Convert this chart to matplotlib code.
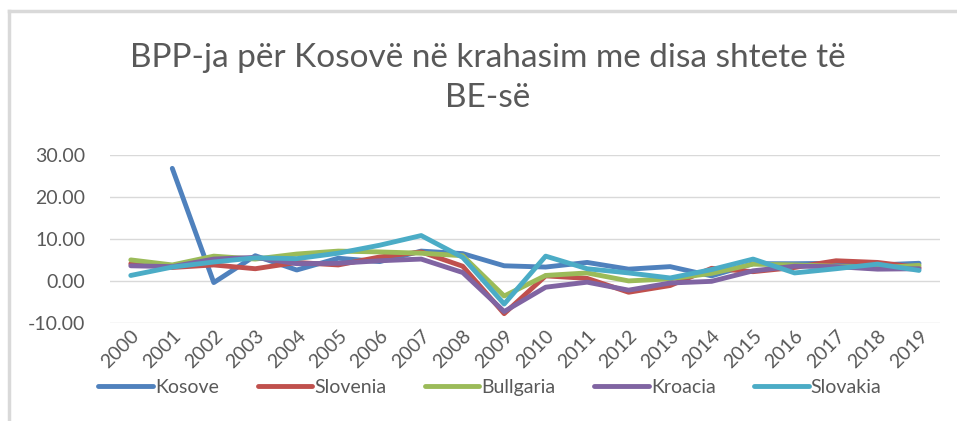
import numpy as np
import matplotlib.pyplot as plt
from matplotlib.lines import Line2D

years = [str(y) for y in range(2000, 2020)]

kosove = [np.nan, 26.8, -0.4, 6.0, 2.6, 5.4, 4.6, 7.1, 6.5, 3.6, 3.3, 4.4, 2.8, 3.4, 1.2, 4.1, 4.1, 4.2, 3.8, 4.2]
slovenia = [4.1, 3.2, 3.8, 2.9, 4.4, 3.8, 5.7, 6.9, 3.5, -7.8, 1.2, 0.6, -2.7, -1.1, 3.0, 2.2, 3.2, 4.8, 4.4, 3.2]
bullgaria = [5.0, 3.8, 5.9, 5.2, 6.4, 7.1, 6.9, 6.6, 6.0, -3.6, 1.3, 1.9, 0.0, 0.5, 1.8, 4.0, 3.8, 3.5, 3.1, 3.7]
kroacia = [3.6, 3.4, 5.2, 5.6, 4.1, 4.2, 4.8, 5.2, 2.0, -7.3, -1.5, -0.3, -2.2, -0.5, -0.1, 2.4, 3.5, 3.4, 2.8, 2.9]
slovakia = [1.3, 3.3, 4.5, 5.5, 5.3, 6.6, 8.5, 10.8, 5.6, -5.5, 5.9, 2.9, 1.9, 0.7, 2.7, 5.2, 1.9, 2.9, 4.0, 2.5]

names = ["Kosove", "Slovenia", "Bullgaria", "Kroacia", "Slovakia"]
colors = ["#4F81BD", "#C0504D", "#9BBB59", "#8064A2", "#4BACC6"]

plt.rcParams["font.family"] = ["Lato", "DejaVu Sans"]

fig = plt.figure(figsize=(9.57, 4.21), dpi=100)
ax = fig.add_axes([0.115, 0.233, 0.867, 0.399])

x = np.arange(len(years))
for vals, name, c in zip([kosove, slovenia, bullgaria, kroacia, slovakia], names, colors):
    ax.plot(x, vals, color=c, lw=3.5, label=name, solid_capstyle="round")

ax.set_xlim(-0.5, len(years) - 0.5)
ax.set_ylim(-10, 30)
ax.set_yticks([-10, 0, 10, 20, 30])
ax.set_yticklabels([f"{v:.2f}" for v in [-10, 0, 10, 20, 30]])
ax.set_xticks(x)
ax.set_xticklabels(years, rotation=45, ha="right", rotation_mode="anchor")
ax.tick_params(length=0, labelsize=14, colors="#595959")
ax.tick_params(axis="y", pad=18)
ax.tick_params(axis="x", pad=3, labelsize=14)
ax.grid(axis="y", color="#D9D9D9", lw=1)
ax.set_axisbelow(True)
for s in ax.spines.values():
    s.set_visible(False)

fig.text(0.51, 0.815, "BPP-ja për Kosovë në krahasim me disa shtete të\nBE-së",
         ha="center", va="center", fontsize=24, color="#595959", linespacing=1.4)

fig.legend(loc="center", bbox_to_anchor=(0.512, 0.08), bbox_transform=fig.transFigure,
           ncol=5, frameon=False, fontsize=14, labelcolor="#595959",
           handlelength=2.8, handletextpad=0.1, columnspacing=2.0)

fig.add_artist(Line2D([0.009, 0.009], [0, 0.975], color="#D9D9D9", lw=2.5))
fig.add_artist(Line2D([0.009, 1], [0.975, 0.975], color="#D9D9D9", lw=2.5))

fig.savefig("out.png", dpi=100)
